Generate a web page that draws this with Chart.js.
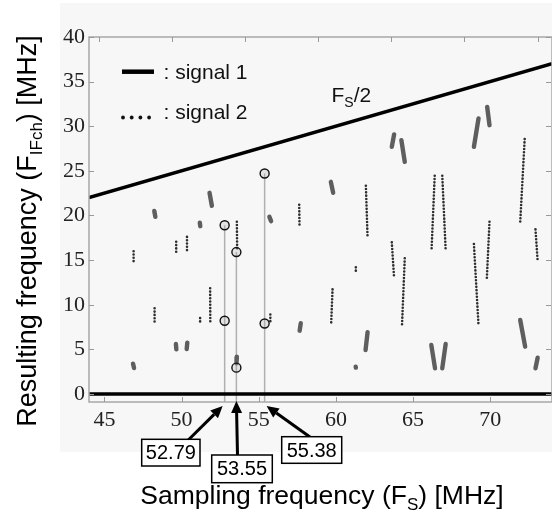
<!DOCTYPE html>
<html>
<head>
<meta charset="utf-8">
<script src="https://cdn.jsdelivr.net/npm/chart.js@4.4.1/dist/chart.umd.min.js"></script>
<style>
  html, body { margin: 0; padding: 0; background: #fff; }
  #wrap { width: 552px; height: 515px; }
</style>
</head>
<body>
<div id="wrap"><canvas id="aliasChart" width="552" height="515"></canvas></div>
<script>
// axis ticks
const xTicks = [45, 50, 55, 60, 65, 70];
const yTicks = [0, 5, 10, 15, 20, 25, 30, 35, 40];
const topTicks = [44.63, 49.37, 54.11, 58.85, 63.59, 68.33, 73.07];

// Fs/2 boundary and zero line
const nyquistFs = [44, 74];
const nyquistF = [22, 37];
const zeroFs = [44, 74];
const zeroF = [0, 0];

// signal 1 (solid segments): [Fs start, F start, Fs end, F end]
const signal1 = [
  [46.85, 3.4, 46.92, 2.9],
  [48.23, 20.5, 48.3, 19.85],
  [49.63, 5.6, 49.66, 5.0],
  [50.37, 5.75, 50.33, 5.04],
  [51.18, 19.2, 51.21, 18.8],
  [51.81, 22.54, 51.96, 21.09],
  [53.58, 4.18, 53.56, 3.44],
  [55.69, 19.85, 55.8, 19.37],
  [57.72, 7.92, 57.65, 7.09],
  [59.67, 23.77, 59.82, 22.54],
  [62.05, 6.91, 61.92, 4.93],
  [61.28, 3.05, 61.29, 2.95],
  [63.77, 29.08, 63.62, 27.69],
  [64.24, 28.44, 64.46, 26.01],
  [66.18, 5.49, 66.42, 2.88],
  [67.11, 5.6, 66.89, 2.88],
  [69.24, 30.87, 68.94, 27.69],
  [69.8, 32.17, 69.95, 30.12],
  [71.94, 8.29, 72.26, 5.3],
  [73.07, 4.06, 72.93, 2.88]
];

// signal 2 (dotted segments)
const signal2 = [
  [46.89, 16.0, 46.89, 14.8],
  [48.25, 9.6, 48.25, 7.9],
  [49.65, 17.05, 49.65, 15.9],
  [50.35, 17.6, 50.35, 15.9],
  [51.2, 8.5, 51.2, 7.8],
  [51.85, 11.84, 51.86, 7.84],
  [53.58, 19.3, 53.6, 16.3],
  [55.75, 8.9, 55.75, 7.9],
  [57.62, 21.2, 57.64, 18.8],
  [59.78, 11.72, 59.69, 7.8],
  [61.94, 23.33, 62.05, 17.55],
  [61.29, 14.19, 61.29, 13.7],
  [63.62, 16.99, 63.77, 12.96],
  [64.46, 15.2, 64.28, 7.65],
  [66.4, 24.45, 66.2, 16.32],
  [66.89, 24.45, 67.11, 16.13],
  [68.94, 16.8, 69.24, 7.65],
  [69.95, 19.3, 69.78, 13.02],
  [72.23, 28.56, 71.94, 19.23],
  [72.93, 18.44, 73.07, 14.89]
];

// highlighted sampling frequencies
const markerFs = [52.79, 53.55, 55.38];
const markerHigh = [18.9, 15.9, 24.7];
const markerLow = [8.2, 2.95, 7.9];
const markerLabels = ['52.79', '53.55', '55.38'];

const yMin = -0.9, yMax = 40;

function segPoints(segs) {
  const pts = [];
  segs.forEach(s => {
    pts.push({x: s[0], y: s[1]}, {x: s[2], y: s[3]}, {x: s[2], y: null});
  });
  return pts;
}

const markerLines = markerFs.map((f, i) => [f, markerHigh[i], f, yMin]);
const circles = [];
markerFs.forEach((f, i) => {
  circles.push({x: f, y: markerHigh[i]}, {x: f, y: markerLow[i]});
});

const SANS = '"Liberation Sans", Arial, sans-serif';
const SERIF = '"Liberation Serif", "Times New Roman", serif';

// draws text pieces in a row, subscripts shifted down
function subText(ctx, parts, x, y, align, drop) {
  let total = 0;
  parts.forEach(p => {
    ctx.font = p[2];
    total += ctx.measureText(p[0]).width;
  });
  let cx = align === 'center' ? x - total / 2 : x;
  parts.forEach(p => {
    ctx.font = p[2];
    ctx.fillText(p[0], cx, y + (p[1] ? drop : 0));
    cx += ctx.measureText(p[0]).width;
  });
}

function arrow(ctx, x1, y1, x2, y2) {
  const ang = Math.atan2(y2 - y1, x2 - x1);
  const hl = 12, hw = 5.5;
  const bx = x2 - hl * Math.cos(ang), by = y2 - hl * Math.sin(ang);
  ctx.beginPath();
  ctx.moveTo(x1, y1);
  ctx.lineTo(bx, by);
  ctx.lineWidth = 3;
  ctx.stroke();
  ctx.beginPath();
  ctx.moveTo(x2, y2);
  ctx.lineTo(bx + hw * Math.sin(ang), by - hw * Math.cos(ang));
  ctx.lineTo(bx - hw * Math.sin(ang), by + hw * Math.cos(ang));
  ctx.closePath();
  ctx.fill();
}

const decorPlugin = {
  id: 'decor',
  beforeDraw(chart) {
    const ctx = chart.ctx;
    ctx.save();
    ctx.fillStyle = '#fff';
    ctx.fillRect(0, 0, chart.width, chart.height);
    ctx.fillStyle = '#f7f7f7';
    ctx.fillRect(60, 3, 492, 449);
    ctx.restore();
  },
  afterDraw(chart) {
    const ctx = chart.ctx;
    const a = chart.chartArea;
    const xs = chart.scales.x, ys = chart.scales.y;
    ctx.save();

    // frame + inward ticks
    ctx.strokeStyle = '#a8a8a8';
    ctx.lineWidth = 1.5;
    ctx.strokeRect(a.left, a.top, a.right - a.left, a.bottom - a.top);
    ctx.lineWidth = 1;
    ctx.strokeStyle = '#999';
    ctx.beginPath();
    xTicks.forEach(v => {
      const px = Math.round(xs.getPixelForValue(v)) + 0.5;
      ctx.moveTo(px, a.bottom); ctx.lineTo(px, a.bottom - 5);
    });
    topTicks.forEach(v => {
      const px = Math.round(xs.getPixelForValue(v)) + 0.5;
      ctx.moveTo(px, a.top); ctx.lineTo(px, a.top + 5);
    });
    yTicks.forEach(v => {
      const py = Math.round(ys.getPixelForValue(v)) + 0.5;
      ctx.moveTo(a.left, py); ctx.lineTo(a.left + 5, py);
      ctx.moveTo(a.right - 1, py); ctx.lineTo(a.right - 6, py);
    });
    ctx.stroke();

    // legend
    ctx.fillStyle = '#111';
    ctx.strokeStyle = '#000';
    ctx.lineWidth = 4.5;
    ctx.beginPath();
    ctx.moveTo(122, 71.7); ctx.lineTo(154, 71.7);
    ctx.stroke();
    for (let i = 0; i < 4; i++) {
      ctx.beginPath();
      ctx.arc(123 + i * 8.7, 117.5, 1.9, 0, Math.PI * 2);
      ctx.fill();
    }
    ctx.font = '21px ' + SANS;
    ctx.textAlign = 'left';
    ctx.textBaseline = 'alphabetic';
    ctx.fillText(': signal 1', 163.5, 79);
    ctx.fillText(': signal 2', 163.5, 118.5);

    // Fs/2 label
    subText(ctx, [['F', false, '21px ' + SANS], ['S', true, '14px ' + SANS], ['/2', false, '21px ' + SANS]], 331.5, 101.5, 'left', 5);

    // axis titles
    ctx.fillStyle = '#000';
    subText(ctx, [['Sampling frequency (F', false, '26.5px ' + SANS], ['S', true, '17px ' + SANS], [') [MHz]', false, '26.5px ' + SANS]], 322, 503.5, 'center', 6);
    ctx.save();
    ctx.translate(35.5, 231);
    ctx.rotate(-Math.PI / 2);
    subText(ctx, [['Resulting frequency (F', false, '27px ' + SANS], ['IFch', true, '17px ' + SANS], [') [MHz]', false, '27px ' + SANS]], 0, 0, 'center', 6);
    ctx.restore();

    // value boxes with arrows
    const boxes = [
      {x: 141.7, y: 439.3, w: 58.3, h: 26.7, dx: -2, ty: 406, tx: 188.3, tyy: 440},
      {x: 211.7, y: 455, w: 60.6, h: 27.7, dx: 0, ty: 401, tx: 237.5, tyy: 455},
      {x: 281.7, y: 436.7, w: 60, h: 26.6, dx: 2, ty: 406, tx: 311.7, tyy: 438.3}
    ];
    ctx.fillStyle = '#000';
    ctx.strokeStyle = '#000';
    boxes.forEach((b, i) => {
      const tipX = xs.getPixelForValue(markerFs[i]) + b.dx;
      arrow(ctx, b.tx, b.tyy, tipX, b.ty);
      ctx.fillStyle = '#fff';
      ctx.fillRect(b.x, b.y, b.w, b.h);
      ctx.lineWidth = 1.5;
      ctx.strokeRect(b.x, b.y, b.w, b.h);
      ctx.fillStyle = '#000';
      ctx.font = '20px ' + SANS;
      ctx.textAlign = 'center';
      ctx.textBaseline = 'middle';
      ctx.fillText(markerLabels[i], b.x + b.w / 2, b.y + b.h / 2 + 1);
    });
    ctx.restore();
  }
};

const ctx = document.getElementById('aliasChart').getContext('2d');
new Chart(ctx, {
  type: 'line',
  data: {
    datasets: [
      {
        type: 'scatter',
        label: 'markers',
        data: circles,
        pointRadius: 4.5,
        pointBorderWidth: 1.4,
        pointBorderColor: '#111',
        pointBackgroundColor: 'rgba(170,170,170,0.25)',
        showLine: false
      },
      {
        label: 'zero',
        data: zeroFs.map((f, i) => ({x: f, y: zeroF[i]})),
        borderColor: '#000',
        borderWidth: 3.5,
        pointRadius: 0
      },
      {
        label: 'Fs/2',
        data: nyquistFs.map((f, i) => ({x: f, y: nyquistF[i]})),
        borderColor: '#000',
        borderWidth: 3.5,
        pointRadius: 0
      },
      {
        label: 'signal 1',
        data: segPoints(signal1),
        borderColor: '#5e5e5e',
        borderWidth: 4.4,
        borderCapStyle: 'round',
        pointRadius: 0,
        spanGaps: false
      },
      {
        label: 'signal 2',
        data: segPoints(signal2),
        borderColor: '#2e2e2e',
        borderWidth: 2.6,
        borderCapStyle: 'round',
        borderDash: [0, 3.3],
        pointRadius: 0,
        spanGaps: false
      },
      {
        label: 'marker lines',
        data: segPoints(markerLines),
        borderColor: '#b0b0b0',
        borderWidth: 1.5,
        pointRadius: 0,
        spanGaps: false
      }
    ]
  },
  options: {
    responsive: false,
    animation: false,
    layout: { autoPadding: false, padding: { left: 60, top: 37, right: 0, bottom: 0 } },
    plugins: { legend: { display: false }, tooltip: { enabled: false } },
    scales: {
      x: {
        type: 'linear',
        min: 44,
        max: 74,
        grid: { display: false, drawTicks: false },
        border: { display: false },
        afterBuildTicks: s => { s.ticks = xTicks.map(v => ({value: v})); },
        afterFit: s => { s.height = 113; s.paddingLeft = 0; s.paddingRight = 0; },
        ticks: { font: { family: SERIF, size: 22 }, color: '#222', padding: 5, maxRotation: 0, autoSkip: false }
      },
      y: {
        type: 'linear',
        min: yMin,
        max: yMax,
        grid: { display: false, drawTicks: false },
        border: { display: false },
        afterBuildTicks: s => { s.ticks = yTicks.map(v => ({value: v})); },
        afterFit: s => { s.width = 29; s.paddingTop = 0; s.paddingBottom = 0; },
        ticks: { font: { family: SERIF, size: 22 }, color: '#222', padding: 4, autoSkip: false }
      }
    }
  },
  plugins: [decorPlugin]
});
</script>
</body>
</html>
